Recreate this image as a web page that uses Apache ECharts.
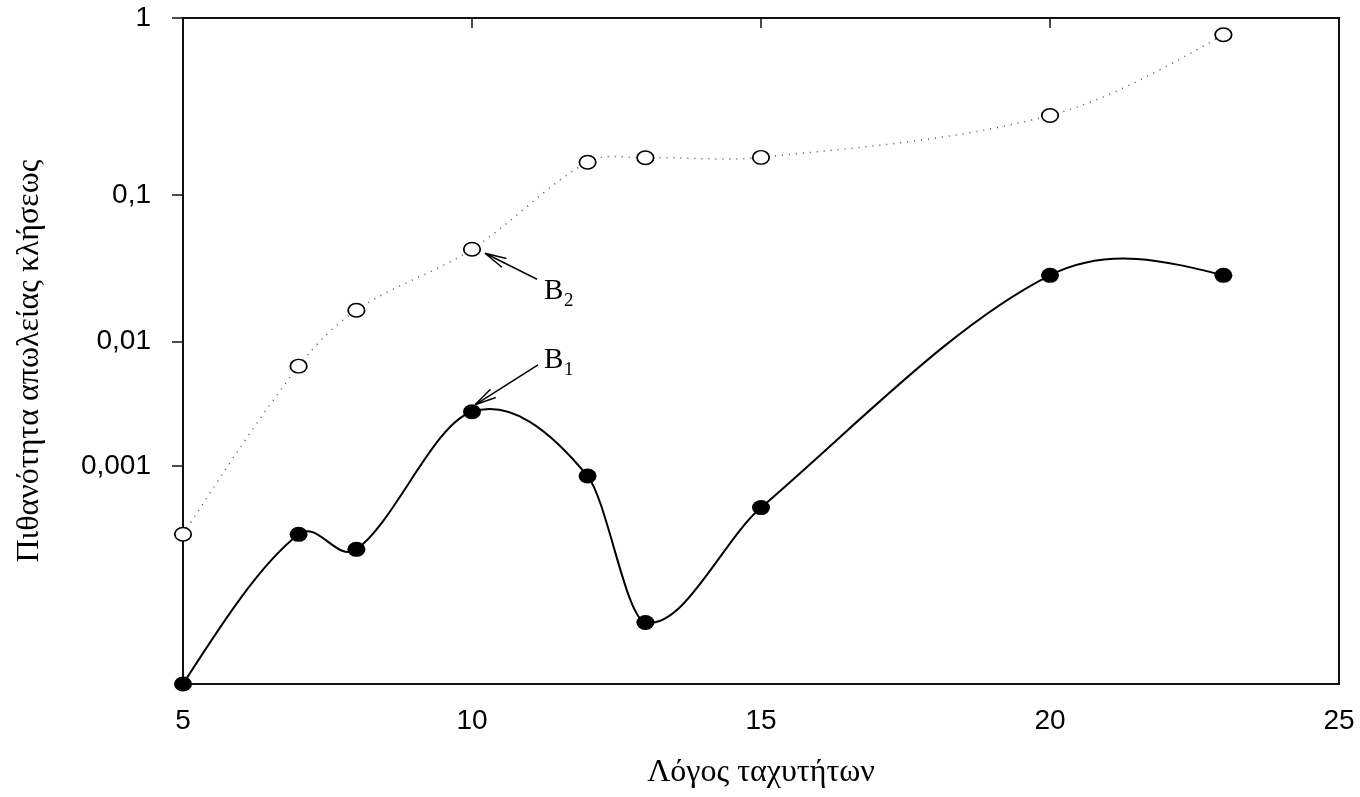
<!DOCTYPE html>
<html><head><meta charset="utf-8">
<script src="https://cdn.jsdelivr.net/npm/echarts@6/dist/echarts.min.js"></script>
<style>html,body{margin:0;padding:0;background:#fff}#c{width:1360px;height:797px}</style>
</head><body><div id="c"></div>
<script>
// ---- data ----
const speedRatio = [5, 7, 8, 10, 12, 13, 15, 20, 23];
const lossB1 = [7.2e-6, 2.44e-4, 1.76e-4, 2.84e-3, 8.2e-4, 3.3e-5, 4.3e-4, 0.0297, 0.0297];
const lossB2 = [2.44e-4, 6.5e-3, 0.0169, 0.0446, 0.159, 0.169, 0.170, 0.299, 0.82];
const xTicks = [5, 10, 15, 20, 25];
const yTickValues = [1, 0.1, 0.01, 0.001];
const yTickLabels = ['1', '0,1', '0,01', '0,001'];
const yAxisBottom = 7.2e-6;
const xTitle = 'Λόγος ταχυτήτων';
const yTitle = 'Πιθανότητα απωλείας κλήσεως';

// compressed-log probability scale of the original axis
const C = 4.3;
function toAxis(p) { return Math.log(1 + (-Math.log10(p)) / C); }

// cubic Hermite spline (centred-difference tangents) through pixel points, as bezier segments
function splineSegments(pts) {
  const n = pts.length, x = pts.map(p => p[0]), y = pts.map(p => p[1]);
  const h = [], s = [];
  for (let i = 0; i < n - 1; i++) { h.push(x[i + 1] - x[i]); s.push((y[i + 1] - y[i]) / h[i]); }
  const m = new Array(n);
  for (let i = 1; i < n - 1; i++) m[i] = (y[i + 1] - y[i - 1]) / (x[i + 1] - x[i - 1]);
  m[0] = (3 * s[0] - m[1]) / 2;
  m[n - 1] = (3 * s[n - 2] - m[n - 2]) / 2;
  const segs = [];
  for (let i = 0; i < n - 1; i++) {
    segs.push({ x1: x[i], y1: y[i], cpx1: x[i] + h[i] / 3, cpy1: y[i] + m[i] * h[i] / 3,
      cpx2: x[i + 1] - h[i] / 3, cpy2: y[i + 1] - m[i + 1] * h[i] / 3, x2: x[i + 1], y2: y[i + 1] });
  }
  return segs;
}

function curveSeries(values, style) {
  return {
    type: 'custom', silent: true, z: 2,
    data: speedRatio.map((x, i) => [x, toAxis(values[i])]),
    renderItem: function (params, api) {
      if (params.dataIndex !== 0) return null;
      const pts = speedRatio.map((x, i) => api.coord([x, toAxis(values[i])]));
      return {
        type: 'group',
        children: splineSegments(pts).map(s => ({
          type: 'bezierCurve', shape: s,
          style: Object.assign({ fill: null }, style)
        }))
      };
    }
  };
}

const ellipse = 'path://M0 50 A50 50 0 1 1 100 50 A50 50 0 1 1 0 50 Z';
const axisColor = '#111';

const chart = echarts.init(document.getElementById('c'), null, { renderer: 'canvas' });
chart.setOption({
  animation: false,
  backgroundColor: '#fff',
  grid: { left: 183, right: 21, top: 18, bottom: 113, show: true, borderColor: axisColor, borderWidth: 2, backgroundColor: 'transparent' },
  xAxis: {
    type: 'value', min: xTicks[0], max: xTicks[xTicks.length - 1], interval: 5,
    axisLine: { show: true, lineStyle: { color: axisColor, width: 2 } },
    axisTick: { show: true, length: 10, lineStyle: { color: axisColor, width: 1.5 } },
    axisLabel: { margin: 23, fontSize: 28, fontFamily: 'Liberation Sans', color: '#000' },
    splitLine: { show: false },
    name: xTitle, nameLocation: 'middle', nameGap: 73,
    nameTextStyle: { fontFamily: 'Liberation Serif', fontSize: 32, color: '#000' }
  },
  yAxis: {
    type: 'value', inverse: true, min: 0, max: toAxis(yAxisBottom),
    axisLine: { show: true, lineStyle: { color: axisColor, width: 2 } },
    axisTick: { show: true, customValues: yTickValues.map(toAxis), length: 11, lineStyle: { color: axisColor, width: 1.5 } },
    axisLabel: {
      customValues: yTickValues.map(toAxis), margin: 32, fontSize: 28, fontFamily: 'Liberation Sans', color: '#000',
      formatter: function (v) {
        let best = 0, bd = Infinity;
        yTickValues.forEach((t, i) => { const d = Math.abs(toAxis(t) - v); if (d < bd) { bd = d; best = i; } });
        return yTickLabels[best];
      }
    },
    splitLine: { show: false },
    name: yTitle, nameLocation: 'middle', nameGap: 137,
    nameTextStyle: { fontFamily: 'Liberation Serif', fontSize: 32, color: '#000', padding: [0, 20, 0, 0] }
  },
  series: [
    curveSeries(lossB2, { stroke: '#555', lineWidth: 1.5, lineDash: [1, 6] }),
    curveSeries(lossB1, { stroke: '#000', lineWidth: 2 }),
    {
      type: 'scatter', z: 5, silent: true, symbol: ellipse, symbolSize: [16.5, 13.5],
      itemStyle: { color: '#fff', borderColor: '#000', borderWidth: 1.6, opacity: 1 },
      data: speedRatio.map((x, i) => [x, toAxis(lossB2[i])])
    },
    {
      type: 'scatter', z: 5, silent: true, symbol: ellipse, symbolSize: [18, 15],
      itemStyle: { color: '#000', opacity: 1 },
      data: speedRatio.map((x, i) => [x, toAxis(lossB1[i])])
    }
  ]
});

// annotations anchored to the points at speed ratio 10
function arrow(p, tail, head) {
  const tx = p[0] + tail[0], ty = p[1] + tail[1], hx = p[0] + head[0], hy = p[1] + head[1];
  const ang = Math.atan2(ty - hy, tx - hx), L = 22, a = 13 * Math.PI / 180;
  const st = { stroke: '#000', lineWidth: 1.5 };
  return [
    { type: 'line', shape: { x1: tx, y1: ty, x2: hx, y2: hy }, style: st, z: 10 },
    { type: 'line', shape: { x1: hx, y1: hy, x2: hx + L * Math.cos(ang + a), y2: hy + L * Math.sin(ang + a) }, style: st, z: 10 },
    { type: 'line', shape: { x1: hx, y1: hy, x2: hx + L * Math.cos(ang - a), y2: hy + L * Math.sin(ang - a) }, style: st, z: 10 }
  ];
}
function label(p, main, sub, mainOff, subOff) {
  return [
    { type: 'text', x: p[0] + mainOff[0], y: p[1] + mainOff[1], z: 10,
      style: { text: main, font: '29px "Liberation Serif"', fill: '#000', verticalAlign: 'top' } },
    { type: 'text', x: p[0] + subOff[0], y: p[1] + subOff[1], z: 10,
      style: { text: sub, font: '19px "Liberation Serif"', fill: '#000', verticalAlign: 'top' } }
  ];
}
const i10 = speedRatio.indexOf(10);
const pB2 = chart.convertToPixel({ gridIndex: 0 }, [10, toAxis(lossB2[i10])]);
const pB1 = chart.convertToPixel({ gridIndex: 0 }, [10, toAxis(lossB1[i10])]);
chart.setOption({
  graphic: [].concat(
    arrow(pB2, [65, 30], [13, 4]),
    label(pB2, 'B', '2', [72, 28], [92, 42]),
    arrow(pB1, [66, -47], [3, -7]),
    label(pB1, 'B', '1', [72, -66], [92, -51])
  )
});
</script>
</body></html>
